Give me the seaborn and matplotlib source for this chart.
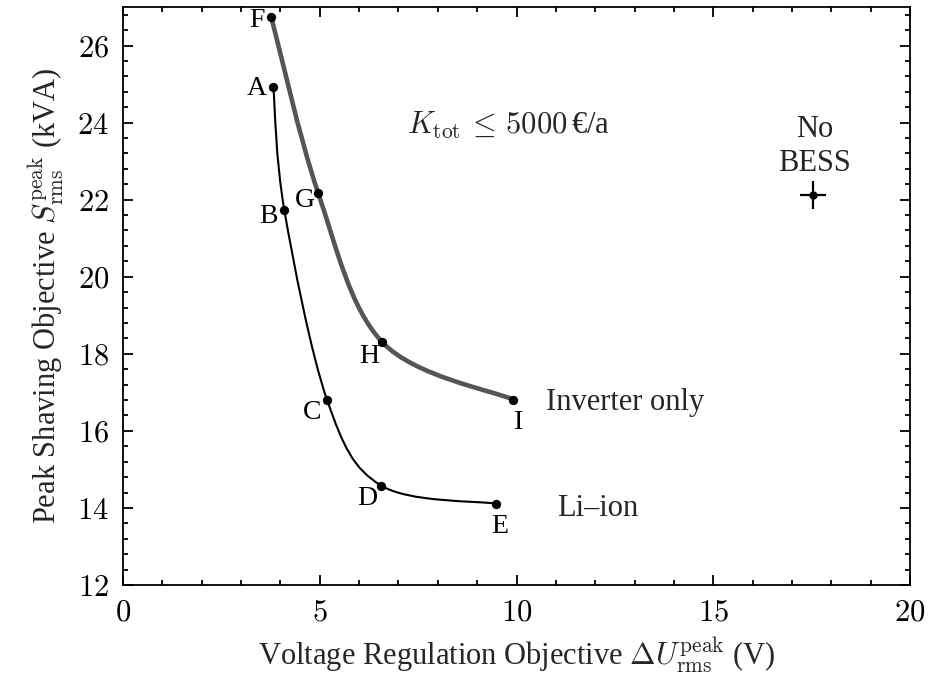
import matplotlib
matplotlib.use("Agg")
import matplotlib.pyplot as plt
from matplotlib.path import Path
from matplotlib.patches import PathPatch
from matplotlib.ticker import MultipleLocator, FuncFormatter
import numpy as np
import pandas as pd
import seaborn as sns

# Pareto points (voltage deviation in V, apparent power in kVA)
inv_labels = ["F", "G", "H", "I"]
inv_du = [3.77, 4.96, 6.59, 9.92]
inv_s = [26.73, 22.17, 18.30, 16.81]

li_labels = ["A", "B", "C", "D", "E"]
li_du = [3.82, 4.10, 5.19, 6.56, 9.49]
li_s = [24.93, 21.73, 16.79, 14.58, 14.11]

# Reference case without storage
nobess_du = [17.53]
nobess_s = [22.12]
nobess_du_err = [0.33]
nobess_s_err = [0.36]

sns.set_theme(style="ticks")
plt.rcParams["font.family"] = ["Liberation Serif", "DejaVu Serif"]
plt.rcParams["mathtext.fontset"] = "cm"
plt.rcParams["xtick.direction"] = "in"
plt.rcParams["ytick.direction"] = "in"

FS = 22

fig = plt.figure(figsize=(9.31, 6.81), dpi=100)
ax = fig.add_axes([0.1321, 0.1410, 0.9775 - 0.1321, 0.9897 - 0.1410])


def smooth_path(xs, ys):
    """Catmull-Rom curve through the points, expressed as cubic Bezier segments."""
    pts = np.column_stack([xs, ys])
    n = len(pts)
    verts = [pts[0]]
    codes = [Path.MOVETO]
    for i in range(n - 1):
        p0 = pts[i - 1] if i > 0 else pts[i]
        p1 = pts[i]
        p2 = pts[i + 1]
        p3 = pts[i + 2] if i + 2 < n else pts[i + 1]
        c1 = p1 + (p2 - p0) / 6.0
        c2 = p2 - (p3 - p1) / 6.0
        verts += [c1, c2, p2]
        codes += [Path.CURVE4] * 3
    return Path(verts, codes)


ax.add_patch(PathPatch(smooth_path(inv_du, inv_s), facecolor="none",
                       edgecolor="#555555", lw=3.3, capstyle="round", zorder=2))
ax.add_patch(PathPatch(smooth_path(li_du, li_s), facecolor="none",
                       edgecolor="black", lw=1.5, zorder=2))

pts = pd.DataFrame({
    "du": inv_du + li_du,
    "s": inv_s + li_s,
    "label": inv_labels + li_labels,
})
sns.scatterplot(data=pts, x="du", y="s", ax=ax, color="black", s=45,
                edgecolor="black", linewidth=0, zorder=3, legend=False)

ax.errorbar(nobess_du, nobess_s, xerr=nobess_du_err, yerr=nobess_s_err,
            fmt="o", color="black", ms=5, elinewidth=1.6, capsize=0, zorder=3)

# point labels, offsets in pixels
offsets = {
    "F": (-14, -3), "G": (-13, -7), "H": (-13, -14), "I": (5, -23),
    "A": (-17, -2), "B": (-16, -6), "C": (-15, -12), "D": (-14, -13), "E": (3, -23),
}
for _, row in pts.iterrows():
    dx, dy = offsets[row["label"]]
    ax.annotate(row["label"], (row["du"], row["s"]), xytext=(dx, dy),
                textcoords="offset pixels", ha="center", va="center",
                fontsize=20, color="black")

ax.text(10.76, 16.74, "Inverter only", fontsize=FS, ha="left", va="center")
ax.text(11.02, 13.98, "Li–ion", fontsize=FS, ha="left", va="center")
ax.text(9.8, 23.92, r"$K_{\rm tot}\, \leq\, 5000\,$€/a", fontsize=FS,
        ha="center", va="center")
ax.text(17.58, 23.38, "No\nBESS", fontsize=FS, ha="center", va="center",
        linespacing=1.2)

ax.set_xlim(0, 20)
ax.set_ylim(12, 27)
ax.xaxis.set_major_locator(MultipleLocator(5))
ax.xaxis.set_minor_locator(MultipleLocator(1))
ax.yaxis.set_major_locator(MultipleLocator(2))
ax.yaxis.set_minor_locator(MultipleLocator(0.4))
fmt = FuncFormatter(lambda v, p: f"${v:g}$")
ax.xaxis.set_major_formatter(fmt)
ax.yaxis.set_major_formatter(fmt)
ax.tick_params(which="both", top=True, right=True, width=1.3, colors="black",
               labelsize=FS)
ax.tick_params(which="major", length=7, pad=10)
ax.tick_params(which="minor", length=3.5)
for sp in ax.spines.values():
    sp.set_linewidth(1.3)
    sp.set_color("black")

ax.set_xlabel(r"Voltage Regulation Objective $\Delta U^{\rm peak}_{\rm rms}$ (V)",
              fontsize=FS, labelpad=6)
ax.set_ylabel(r"Peak Shaving Objective $S^{\rm peak}_{\rm rms}$ (kVA)",
              fontsize=FS, labelpad=8)

fig.savefig("out.png", dpi=100, facecolor="white")
